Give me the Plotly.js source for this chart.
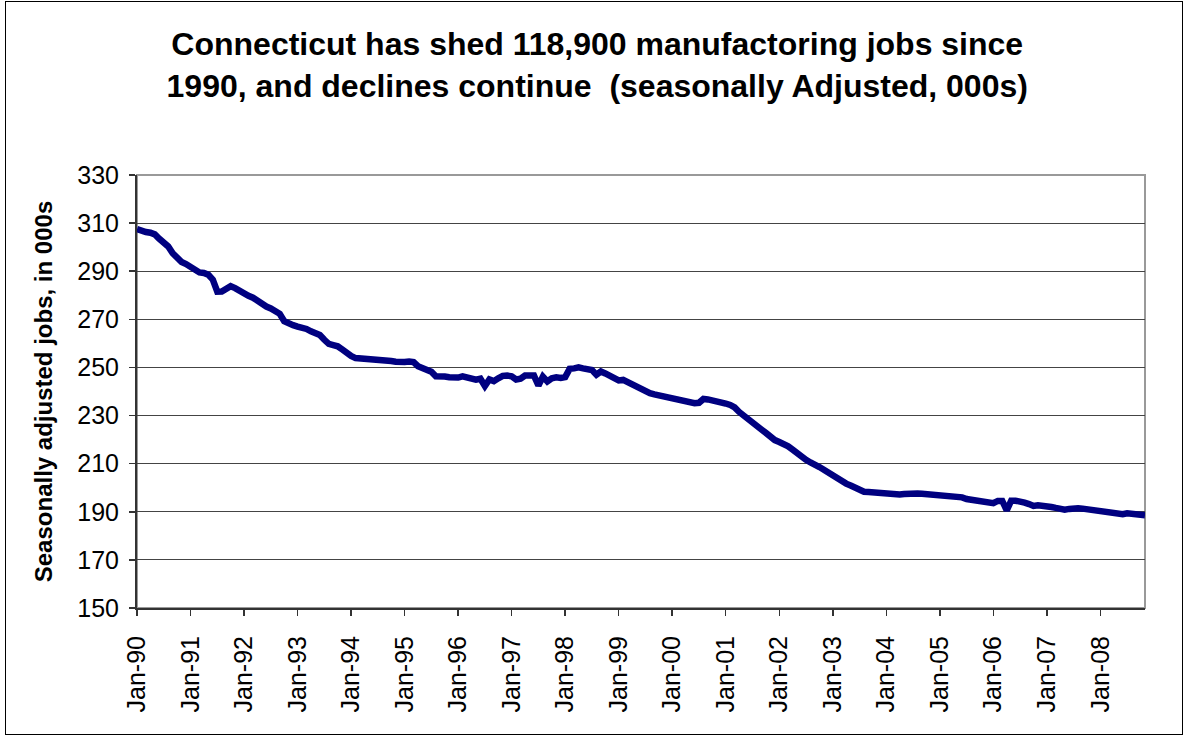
<!DOCTYPE html>
<html>
<head>
<meta charset="utf-8">
<script src="https://cdn.plot.ly/plotly-3.0.1.min.js"></script>
<style>
  html, body { margin: 0; padding: 0; background: #fff; }
  #wrap { position: relative; width: 1185px; height: 736px; }
  #chart { position: absolute; left: 0; top: 0; width: 1185px; height: 736px; }
  #frame { position: absolute; left: 5px; top: 1px; width: 1176px; height: 732px; border: 1.5px solid #000; pointer-events: none; }
</style>
</head>
<body>
<div id="wrap"><div id="chart"></div><div id="frame"></div></div>
<script>
// Month names and years used to build the monthly categories (Jan-90 .. Nov-08)
const monthNames = ['Jan','Feb','Mar','Apr','May','Jun','Jul','Aug','Sep','Oct','Nov','Dec'];
const yearCodes = ['90','91','92','93','94','95','96','97','98','99','00','01','02','03','04','05','06','07','08'];

// Seasonally adjusted manufacturing jobs, 000s
const jobs1990 = [307.5, 306.7, 306.3, 306.0, 305.3, 303.5, 302.0, 300.3, 297.5, 295.2, 293.8, 293.0];
const jobs1991 = [292.0, 290.5, 289.5, 289.3, 288.5, 286.5, 281.5, 281.6, 282.5, 283.8, 283.0, 281.8];
const jobs1992 = [281.0, 279.8, 279.0, 277.5, 276.3, 275.3, 274.5, 273.3, 272.3, 269.2, 268.2, 267.6];
const jobs1993 = [267.0, 266.6, 266.0, 265.0, 264.2, 263.5, 261.5, 259.8, 259.3, 258.8, 257.5, 256.0];
const jobs1994 = [254.8, 253.9, 253.8, 253.8, 253.7, 253.5, 253.3, 253.2, 253.0, 252.7, 252.4, 252.2];
const jobs1995 = [252.3, 252.5, 252.2, 250.5, 249.6, 249.0, 248.2, 246.3, 246.5, 246.2, 245.9, 245.8];
const jobs1996 = [245.8, 246.3, 245.8, 245.4, 244.9, 245.3, 242.3, 245.0, 244.3, 245.5, 246.5, 246.6];
const jobs1997 = [246.3, 245.0, 245.3, 246.6, 246.8, 246.6, 242.5, 246.2, 244.2, 245.5, 245.9, 245.6];
const jobs1998 = [246.0, 249.4, 249.6, 250.0, 249.6, 249.3, 248.9, 247.0, 248.3, 247.5, 246.5, 245.3];
const jobs1999 = [244.6, 244.8, 243.8, 242.7, 241.8, 240.8, 239.9, 239.3, 238.8, 238.4, 238.1, 237.3];
const jobs2000 = [236.8, 236.4, 235.9, 235.6, 235.4, 235.1, 235.3, 236.9, 236.7, 236.4, 235.8, 235.4];
const jobs2001 = [235.0, 234.4, 233.4, 231.5, 230.2, 228.8, 227.3, 225.8, 224.2, 222.8, 221.2, 219.8];
const jobs2002 = [219.0, 218.3, 217.2, 215.8, 214.2, 212.6, 211.6, 210.5, 209.8, 208.6, 207.5, 206.3];
const jobs2003 = [204.8, 203.6, 202.6, 201.7, 200.9, 200.0, 198.5, 198.3, 198.2, 198.0, 197.8, 197.6];
const jobs2004 = [197.5, 197.3, 197.2, 197.2, 197.4, 197.6, 197.7, 197.6, 197.5, 197.4, 197.3, 197.1];
const jobs2005 = [196.9, 196.6, 196.4, 196.3, 196.3, 196.0, 195.3, 195.0, 194.4, 194.2, 194.0, 193.8];
const jobs2006 = [193.6, 194.5, 194.5, 190.6, 194.6, 194.6, 194.5, 193.8, 193.2, 192.4, 192.7, 192.6];
const jobs2007 = [192.3, 192.0, 191.6, 191.0, 190.9, 191.2, 191.5, 191.5, 191.3, 191.0, 190.8, 190.6];
const jobs2008 = [190.4, 190.1, 189.8, 189.4, 189.1, 189.0, 189.4, 189.3, 189.0, 188.6, 188.6];

const tickLabels = ['Jan-90','Jan-91','Jan-92','Jan-93','Jan-94','Jan-95','Jan-96','Jan-97','Jan-98','Jan-99',
                    'Jan-00','Jan-01','Jan-02','Jan-03','Jan-04','Jan-05','Jan-06','Jan-07','Jan-08'];
const yTicks = [150, 170, 190, 210, 230, 250, 270, 290, 310, 330];

const yearly = [jobs1990, jobs1991, jobs1992, jobs1993, jobs1994, jobs1995, jobs1996, jobs1997, jobs1998, jobs1999,
                jobs2000, jobs2001, jobs2002, jobs2003, jobs2004, jobs2005, jobs2006, jobs2007, jobs2008];

const categories = [];
const values = [];
yearly.forEach((arr, yi) => {
  arr.forEach((v, mi) => {
    categories.push(monthNames[mi] + '-' + yearCodes[yi]);
    values.push(v);
  });
});

const FONT = 'Liberation Sans, Arial, Helvetica, sans-serif';

const trace = {
  x: categories,
  y: values,
  type: 'scatter',
  mode: 'lines',
  line: { color: '#000080', width: 6.5 },
  hoverinfo: 'x+y'
};

const layout = {
  width: 1185,
  height: 736,
  margin: { l: 137, r: 40, t: 175, b: 128 },
  paper_bgcolor: '#ffffff',
  plot_bgcolor: '#ffffff',
  showlegend: false,
  title: {
    text: 'Connecticut has shed 118,900 manufactoring jobs since<br>1990, and declines continue  (seasonally Adjusted, 000s)',
    font: { family: FONT, size: 32, color: '#000', weight: 'bold' },
    xref: 'container', x: 0.504, xanchor: 'center',
    yref: 'container', y: 1 - 55 / 736, yanchor: 'middle'
  },
  xaxis: {
    type: 'category',
    range: [0, categories.length - 1],
    tickmode: 'array',
    tickvals: tickLabels,
    ticktext: tickLabels,
    tickangle: -90,
    ticks: 'outside',
    ticklen: 6,
    tickwidth: 1.5,
    tickcolor: '#333',
    ticklabelstandoff: 10,
    tickfont: { family: FONT, size: 25, color: '#000' },
    showgrid: false,
    showline: true,
    linecolor: '#333',
    linewidth: 2,
    zeroline: false
  },
  yaxis: {
    range: [150, 330],
    tickmode: 'array',
    tickvals: yTicks,
    ticktext: yTicks.map(String),
    ticks: 'outside',
    ticklen: 6,
    tickwidth: 1.5,
    tickcolor: '#333',
    ticklabelstandoff: 5,
    tickfont: { family: FONT, size: 25, color: '#000' },
    showgrid: true,
    gridcolor: '#444',
    gridwidth: 1,
    showline: true,
    linecolor: '#333',
    linewidth: 2,
    zeroline: false,
    title: {
      text: 'Seasonally adjusted jobs, in 000s',
      font: { family: FONT, size: 24, color: '#000', weight: 'bold' },
      standoff: 18
    }
  },
  shapes: [
    { type: 'rect', xref: 'paper', yref: 'paper', x0: 0, x1: 1, y0: 0, y1: 1,
      line: { color: '#999', width: 2 }, layer: 'below' }
  ]
};

Plotly.newPlot('chart', [trace], layout, { displayModeBar: false, staticPlot: true });
</script>
</body>
</html>
